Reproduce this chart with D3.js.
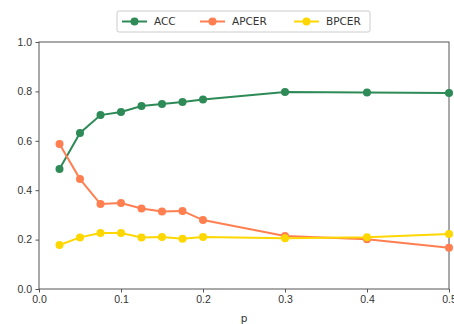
<!DOCTYPE html>
<html>
<head>
<meta charset="utf-8">
<script src="https://cdn.jsdelivr.net/npm/d3@7"></script>
<style>
  body { margin: 0; background: #fff; }
  svg { display: block; font-family: 'DejaVu Sans', sans-serif; }
</style>
</head>
<body>
<div id="chart"></div>
<script>
const pValues = [0.025, 0.05, 0.075, 0.1, 0.125, 0.15, 0.175, 0.2, 0.3, 0.4, 0.5]
const acc = [0.486, 0.632, 0.704, 0.717, 0.741, 0.749, 0.757, 0.767, 0.798, 0.796, 0.794]
const apcer = [0.587, 0.445, 0.344, 0.348, 0.326, 0.314, 0.316, 0.279, 0.215, 0.201, 0.167]
const bpcer = [0.178, 0.209, 0.227, 0.227, 0.209, 0.211, 0.203, 0.211, 0.205, 0.21, 0.223]
const xTicks = [0.0, 0.1, 0.2, 0.3, 0.4, 0.5]
const yTicks = [0.0, 0.2, 0.4, 0.6, 0.8, 1.0]

const seriesList = [
  { name: 'ACC', values: acc, color: '#2e8b57' },
  { name: 'APCER', values: apcer, color: '#ff7f50' },
  { name: 'BPCER', values: bpcer, color: '#ffd700' },
]

const totalW = 454
const totalH = 324
const margin = { top: 42, right: 5, bottom: 35, left: 39 }
const width = totalW - margin.left - margin.right
const height = totalH - margin.top - margin.bottom

const svg = d3.select('#chart')
  .append('svg')
  .attr('width', totalW)
  .attr('height', totalH)

const g = svg.append('g')
  .attr('transform', `translate(${margin.left},${margin.top})`)

const xScale = d3.scaleLinear().domain([0, 0.5]).range([0, width])
const yScale = d3.scaleLinear().domain([0, 1]).range([height, 0])

// axes
const xAxis = g.append('g')
  .attr('transform', `translate(0,${height})`)
  .call(d3.axisBottom(xScale).tickValues(xTicks).tickFormat(d3.format('.1f')).tickSizeOuter(0).tickSize(3.5).tickPadding(3.5))
const yAxis = g.append('g')
  .call(d3.axisLeft(yScale).tickValues(yTicks).tickFormat(d3.format('.1f')).tickSizeOuter(0).tickSize(3.5).tickPadding(3.5))

;[xAxis, yAxis].forEach((ax) => {
  ax.select('.domain').remove()
  ax.selectAll('line').attr('stroke', '#555')
  ax.selectAll('text').attr('fill', '#333').style('font-size', '10.5px')
})

// frame
g.append('rect')
  .attr('x', 0)
  .attr('y', 0)
  .attr('width', width)
  .attr('height', height)
  .attr('fill', 'none')
  .attr('stroke', '#555')
  .attr('stroke-width', 1)

g.append('text')
  .attr('x', width / 2)
  .attr('y', height + 33)
  .attr('text-anchor', 'middle')
  .attr('fill', '#333')
  .style('font-size', '10.5px')
  .text('p')

// lines
const line = d3.line()
  .x((d) => xScale(d[0]))
  .y((d) => yScale(d[1]))

seriesList.forEach((s) => {
  const pts = pValues.map((p, i) => [p, s.values[i]])
  g.append('path')
    .datum(pts)
    .attr('fill', 'none')
    .attr('stroke', s.color)
    .attr('stroke-width', 2)
    .attr('d', line)
  g.selectAll(null)
    .data(pts)
    .enter()
    .append('circle')
    .attr('cx', (d) => xScale(d[0]))
    .attr('cy', (d) => yScale(d[1]))
    .attr('r', 4)
    .attr('fill', s.color)
})

// legend
const legend = svg.append('g').attr('transform', 'translate(117,11)')
legend.append('rect')
  .attr('width', 253)
  .attr('height', 21)
  .attr('rx', 2)
  .attr('fill', '#fff')
  .attr('stroke', '#ccc')
  .attr('stroke-width', 1)

const legendX = [5, 83, 177]
seriesList.forEach((s, i) => {
  const item = legend.append('g').attr('transform', `translate(${legendX[i]},10.5)`)
  item.append('line')
    .attr('x1', 0).attr('x2', 25)
    .attr('stroke', s.color)
    .attr('stroke-width', 2)
  item.append('circle')
    .attr('cx', 12.5)
    .attr('r', 4)
    .attr('fill', s.color)
  item.append('text')
    .attr('x', 32)
    .attr('dy', '0.35em')
    .attr('fill', '#333')
    .style('font-size', '10.5px')
    .text(s.name)
})
</script>
</body>
</html>
